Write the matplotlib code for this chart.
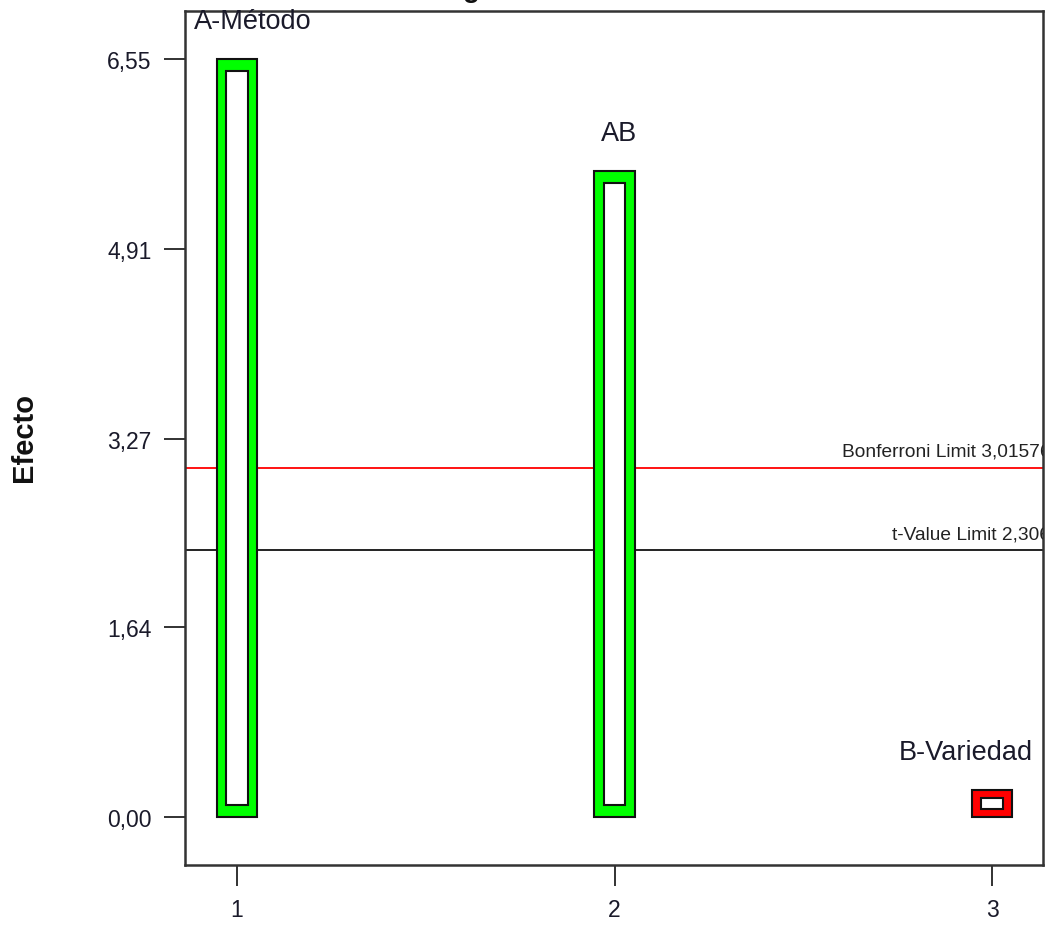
import matplotlib
matplotlib.use('Agg')
import matplotlib.pyplot as plt
import numpy as np

plt.rcParams['font.family'] = ['Liberation Sans', 'DejaVu Sans']

# data
terms = ['A-Método', 'AB', 'B-Variedad']
ranks = [1, 2, 3]
effects = [6.55, 5.58, 0.233]
signs = [1, 1, -1]
bonferroni_limit = 3.01576
t_value_limit = 2.306
y_ticks = [0.00, 1.64, 3.27, 4.91, 6.55]

fig = plt.figure(figsize=(10.45, 9.28), dpi=100)
ax = fig.add_axes([185 / 1045, 1 - 866 / 928, (1043 - 185) / 1045, (866 - 12) / 928])

bar_w = 0.108
colors = ['#00ff00' if s > 0 else '#ff0000' for s in signs]
ax.bar(ranks, effects, width=bar_w, color=colors, edgecolor='#111111', linewidth=1.5, zorder=3)
pads = [min(0.1, 0.3 * h) for h in effects]
inner_h = [h - 2 * p for h, p in zip(effects, pads)]
ax.bar(ranks, inner_h, bottom=pads, width=bar_w * 0.52, color='white',
       edgecolor='#111111', linewidth=1.5, zorder=4)

# limits
ax.axhline(bonferroni_limit, color='#ff0000', lw=1.3, zorder=2)
ax.axhline(t_value_limit, color='#111111', lw=1.3, zorder=2)
ax.text(2.603, bonferroni_limit + 0.07, 'Bonferroni Limit ' + f'{bonferroni_limit:.5f}'.replace('.', ','),
        fontsize=13.8, color='#222222', ha='left', va='bottom', clip_on=True)
ax.text(2.735, t_value_limit + 0.07, 't-Value Limit ' + f'{t_value_limit:.3f}'.replace('.', ','),
        fontsize=13.8, color='#222222', ha='left', va='bottom', clip_on=True)

# term labels
label_dx = [0.042, 0.013, -0.07]
for r, h, t, dx in zip(ranks, effects, terms, label_dx):
    ax.text(r + dx, h + 0.33, t, fontsize=19.5, color='#1a1a2a', ha='center', va='center', zorder=5)

ax.set_xlim(0.862, 3.135)
ax.set_ylim(-0.415, 6.965)
ax.set_xticks(ranks)
ax.set_xticklabels([str(r) for r in ranks])
ax.set_yticks(y_ticks)
ax.set_yticklabels([f'{v:.2f}'.replace('.', ',') for v in y_ticks])
ax.tick_params(axis='both', length=15, width=1.3, color='#222222', labelsize=16.5,
               labelcolor='#1a1a2a')
ax.tick_params(axis='y', pad=9)
ax.tick_params(axis='x', pad=9)
for sp in ax.spines.values():
    sp.set_linewidth(1.8)
    sp.set_color('#333333')

fig.text(24 / 1045, 1 - 437 / 928, 'Efecto', rotation=90, fontsize=21, fontweight='bold',
         ha='center', va='center', color='#111111')

# title mostly outside the cropped image, only the descender peeks in
fig.text(420 / 1045, 1 + 3 / 928, 'Diagrama de Pareto', fontsize=20, fontweight='bold',
         ha='left', va='baseline', color='#111111')

fig.savefig('out.png', dpi=100)
